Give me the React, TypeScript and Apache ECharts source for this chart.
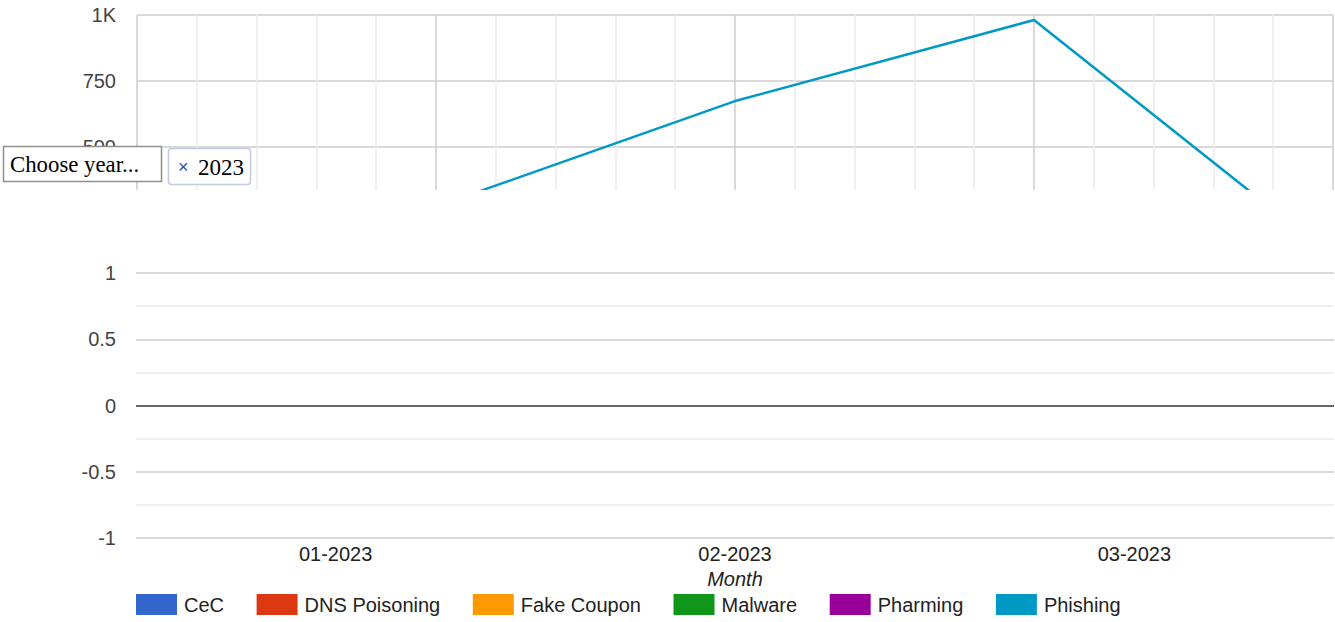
import React, { useEffect, useRef } from "react";
import * as echarts from "echarts";

// Top chart (cropped in the reference): Phishing line over time slots
const topSlots = [1, 2, 3, 4];
const topPhishing = [274, 674, 981, 82];
const topYTicks = { min: 250, max: 1000, interval: 250 };

// Bottom chart
const months = ["01-2023", "02-2023", "03-2023"];
const seriesNames = ["CeC", "DNS Poisoning", "Fake Coupon", "Malware", "Pharming", "Phishing"];
const seriesColors = ["#3366cc", "#dc3912", "#ff9900", "#109618", "#990099", "#0099c6"];
const bottomValues: (number | null)[][] = [[], [], [], [], [], []];

const selectLabel = "Choose year...";
const chosenYear = "2023";

const FONT = "Liberation Sans, Arial, sans-serif";
const SERIF = "Liberation Serif, Times New Roman, serif";

export default function App() {
  const ref = useRef<HTMLDivElement>(null);
  useEffect(() => {
    if (!ref.current) return;
    const chart = echarts.init(ref.current, null, { renderer: "svg" });
    chart.setOption({
      animation: false,
      textStyle: { fontFamily: FONT },
      grid: [
        { left: 137, width: 1196, top: 15, height: 198 },
        { left: 136, width: 1198, top: 273, height: 265 },
      ],
      xAxis: [
        {
          gridIndex: 0,
          type: "value",
          min: 0,
          max: 4,
          interval: 1,
          axisLabel: { show: false },
          axisLine: { show: false },
          axisTick: { show: false },
          splitLine: { show: true, lineStyle: { color: "#cccccc", width: 1.5 } },
          minorTick: { show: false, splitNumber: 5 },
          minorSplitLine: { show: true, lineStyle: { color: "#ebebeb", width: 1.5 } },
        },
        {
          gridIndex: 1,
          type: "category",
          data: months,
          axisLine: { show: false },
          axisTick: { show: false },
          splitLine: { show: false },
          axisLabel: { color: "#222222", fontSize: 20, margin: 6, fontFamily: FONT },
          name: "Month",
          nameLocation: "middle",
          nameGap: 31,
          nameTextStyle: { color: "#222222", fontSize: 20, fontStyle: "italic", fontFamily: FONT },
        },
      ],
      yAxis: [
        {
          gridIndex: 0,
          type: "value",
          min: topYTicks.min,
          max: topYTicks.max,
          interval: topYTicks.interval,
          axisLine: { show: false },
          axisTick: { show: false },
          axisLabel: {
            color: "#444444",
            fontSize: 20,
            margin: 21,
            fontFamily: FONT,
            formatter: (v: number) => (v >= 1000 ? v / 1000 + "K" : String(v)),
          },
          splitLine: { show: true, lineStyle: { color: "#cccccc", width: 1.5 } },
        },
        {
          gridIndex: 1,
          type: "value",
          min: -1,
          max: 1,
          interval: 0.5,
          axisLine: { show: false },
          axisTick: { show: false },
          axisLabel: { color: "#444444", fontSize: 20, margin: 20, fontFamily: FONT },
          splitLine: {
            show: true,
            lineStyle: { color: ["#cccccc", "#cccccc", "#333333", "#cccccc", "#cccccc"], width: 1.5 },
          },
          minorTick: { show: false, splitNumber: 2 },
          minorSplitLine: { show: true, lineStyle: { color: "#ebebeb", width: 1.5 } },
        },
      ],
      legend: {
        left: 136,
        top: 594,
        padding: 0,
        itemWidth: 41,
        itemHeight: 21,
        itemGap: 32.6,
        icon: "rect",
        data: seriesNames,
        textStyle: { fontSize: 20, color: "#222222", fontFamily: FONT, padding: [0, 0, 0, 2] },
      },
      series: [
        {
          name: "Phishing",
          type: "line",
          xAxisIndex: 0,
          yAxisIndex: 0,
          data: topSlots.map((s, i) => [s, topPhishing[i]]),
          showSymbol: false,
          clip: true,
          lineStyle: { color: "#0099c6", width: 2.5 },
          itemStyle: { color: "#0099c6" },
        },
        ...seriesNames.map((n, i) => ({
          name: n,
          type: "line",
          xAxisIndex: 1,
          yAxisIndex: 1,
          data: bottomValues[i],
          showSymbol: false,
          lineStyle: { color: seriesColors[i], width: 2 },
          itemStyle: { color: seriesColors[i] },
        })),
      ],
      graphic: [
        {
          type: "rect",
          z: 100,
          shape: { x: 0, y: 190, width: 1335, height: 72 },
          style: { fill: "#ffffff" },
        },
        {
          type: "rect",
          z: 101,
          shape: { x: 3.5, y: 146.5, width: 158, height: 35 },
          style: { fill: "#ffffff", stroke: "#8f8f8f", lineWidth: 1.5 },
        },
        {
          type: "text",
          z: 102,
          x: 10,
          y: 164,
          style: {
            text: selectLabel,
            fill: "#000000",
            font: "22.8px " + SERIF,
            verticalAlign: "middle",
            align: "left",
          },
        },
        {
          type: "rect",
          z: 101,
          shape: { x: 168.5, y: 148.5, width: 82, height: 36, r: 3 },
          style: { fill: "#ffffff", stroke: "#c3cbe3", lineWidth: 1.5 },
        },
        {
          type: "text",
          z: 102,
          x: 178,
          y: 167,
          style: {
            text: "×",
            fill: "#2b4fa3",
            font: "18px " + FONT,
            verticalAlign: "middle",
            align: "left",
          },
        },
        {
          type: "text",
          z: 102,
          x: 198,
          y: 167,
          style: {
            text: chosenYear,
            fill: "#000000",
            font: "23px " + SERIF,
            verticalAlign: "middle",
            align: "left",
          },
        },
      ],
    });
    return () => chart.dispose();
  }, []);
  return (
    <div
      ref={ref}
      style={{ position: "fixed", left: 0, top: 0, width: 1335, height: 622, background: "#ffffff" }}
    />
  );
}
